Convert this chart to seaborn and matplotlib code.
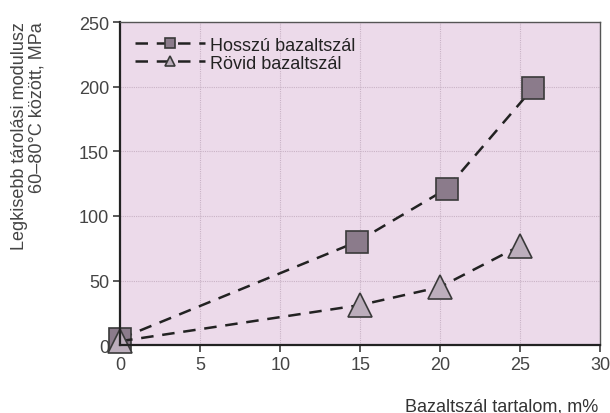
import matplotlib
matplotlib.use("Agg")
import matplotlib.pyplot as plt
import seaborn as sns
import pandas as pd

long_x = [0, 14.8, 20.4, 25.8]
long_y = [5, 80, 121, 199]
short_x = [0, 15, 20, 25]
short_y = [3, 31, 45, 77]
labels = ["Hosszú bazaltszál", "Rövid bazaltszál"]
xticks = [0, 5, 10, 15, 20, 25, 30]
yticks = [0, 50, 100, 150, 200, 250]

sns.set_theme(style="white")
plt.rcParams['font.family'] = ['Liberation Sans', 'DejaVu Sans']

fig = plt.figure(figsize=(6.1, 4.14), dpi=100)
ax = fig.add_axes([0.197, 0.164, 0.787, 0.78])
ax.set_facecolor("#ecdaea")

df_long = pd.DataFrame({"x": long_x, "y": long_y})
df_short = pd.DataFrame({"x": short_x, "y": short_y})

ax.grid(True, color="#c9b3c6", linestyle=(0, (1, 1)), linewidth=0.8)
ax.set_axisbelow(True)

sns.lineplot(data=df_long, x="x", y="y", ax=ax, color="#222222", linewidth=1.8,
             linestyle=(0, (5, 3.5)), marker="s", markersize=16,
             markerfacecolor="#8b7b8b", markeredgecolor="#3a3a3a", markeredgewidth=1.2,
             label=labels[0])
sns.lineplot(data=df_short, x="x", y="y", ax=ax, color="#222222", linewidth=1.8,
             linestyle=(0, (5, 3.5)), marker="^", markersize=17,
             markerfacecolor="#bcaebc", markeredgecolor="#3a3a3a", markeredgewidth=1.2,
             label=labels[1])

ax.set_xlim(0, 30)
ax.set_ylim(0, 250)
ax.set_xticks(xticks)
ax.set_yticks(yticks)
ax.tick_params(axis="both", labelsize=13, labelcolor="#444444", length=5, color="#444444",
               direction="out", bottom=True, left=True, pad=3)
ax.set_xlabel("")
ax.set_ylabel("")

for s in ["left", "bottom"]:
    ax.spines[s].set_color("#222222")
    ax.spines[s].set_linewidth(1.6)
for s in ["top", "right"]:
    ax.spines[s].set_color("#555555")
    ax.spines[s].set_linewidth(1.0)

for line in ax.get_lines():
    line.set_clip_on(False)

leg = ax.legend(loc="upper left", frameon=False, fontsize=13, handlelength=3.9,
                markerscale=0.45, borderaxespad=0.5, borderpad=0.3, labelspacing=0.05,
                handletextpad=0.3)
for t in leg.get_texts():
    t.set_color("#222222")

fig.text(0.046, 0.947, "Legkisebb tárolási modulusz\n60–80°C között, MPa", rotation=90,
         ha="center", va="top", multialignment="right", fontsize=13, color="#444444",
         linespacing=1.0)
fig.text(0.98, 0.017, "Bazaltszál tartalom, m%", ha="right", va="center",
         fontsize=13, color="#333333")

fig.savefig("out.png", dpi=100)
